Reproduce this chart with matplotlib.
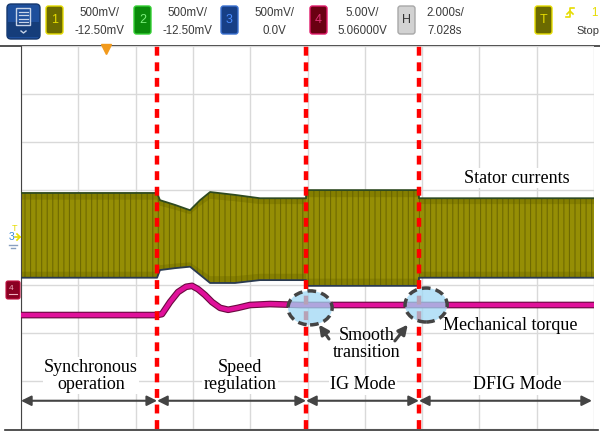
import numpy as np
import matplotlib
matplotlib.use('Agg')
import matplotlib.pyplot as plt
from matplotlib.patches import Ellipse, FancyBboxPatch, Rectangle
import matplotlib.patheffects as pe

# ---- data (time in s, amplitude in divisions) ----
cur_t = [0, 4.75, 4.85, 5.38, 5.90, 6.25, 6.60, 7.47, 8.34, 9.74, 9.95, 9.95, 13.89, 13.89, 20]
cur_hi = [0.93, 0.93, 0.78, 0.68, 0.57, 0.78, 0.95, 0.89, 0.82, 0.82, 0.82, 0.99, 0.99, 0.82, 0.82]
cur_lo = [-0.84, -0.84, -0.68, -0.64, -0.61, -0.78, -0.95, -0.95, -0.89, -0.89, -0.89, -1.01, -1.01, -0.84, -0.84]

torq_t = [0, 4.75, 4.92, 5.20, 5.48, 5.76, 5.97, 6.18, 6.42, 6.67, 6.95, 7.23, 7.57, 7.99, 8.69, 9.74, 20]
torq_v = [-1.62, -1.62, -1.60, -1.35, -1.14, -1.03, -1.01, -1.08, -1.20, -1.35, -1.47, -1.51, -1.47, -1.41, -1.39, -1.41, -1.41]

mode_edges = [0, 4.75, 9.95, 13.89, 19.93]
mode_names = ['Synchronous\noperation', 'Speed\nregulation', 'IG Mode', 'DFIG Mode']
mode_label_x = [2.44, 7.64, 11.94, 17.31]
mode_label_y = [-2.89, -2.89, -3.08, -3.08]
transitions = [(10.09, -1.47), (14.14, -1.41)]

W, H = 600, 436
fig = plt.figure(figsize=(W / 100, H / 100), dpi=100)
fig.patch.set_facecolor('white')

ax = fig.add_axes([21 / W, 1 - 429 / H, 573 / W, 383 / H])
ax.set_xlim(0, 20)
ax.set_ylim(-4, 4)
ax.set_xticks(np.arange(0, 21, 2))
ax.set_yticks(np.arange(-4, 5, 1))
ax.grid(True, color='#d9d9d9', lw=1)
ax.tick_params(length=0, labelbottom=False, labelleft=False)
for s in ['right', 'bottom']:
    ax.spines[s].set_visible(False)
ax.spines['left'].set_color('#444444')
ax.spines['top'].set_visible(False)
ax.set_axisbelow(True)

serif = ['Liberation Serif', 'DejaVu Serif']
plt.rcParams['hatch.linewidth'] = 0.8

# stator current band
ax.fill_between(cur_t, cur_lo, cur_hi, facecolor='#857f00', lw=0, zorder=2)
ax.fill_between(cur_t, np.array(cur_lo) * 0.85, np.array(cur_hi) * 0.85,
                facecolor='#a49c0a', lw=0, alpha=0.55, zorder=2)
ax.fill_between(cur_t, cur_lo, cur_hi, facecolor='none', edgecolor='#5e5a00',
                hatch='|||', lw=0, alpha=0.7, zorder=2)
ax.plot(cur_t, cur_hi, color='#2f4a20', lw=1.3, zorder=3)
ax.plot(cur_t, cur_lo, color='#2a3a50', lw=1.3, zorder=3)

# mechanical torque
ax.plot(torq_t, torq_v, color='#e0109a', lw=3.2,
        path_effects=[pe.Stroke(linewidth=4.8, foreground='#6a0a40'), pe.Normal()], zorder=4)

# mode boundaries
for x in mode_edges[1:4]:
    ax.axvline(x, color='#ff0000', lw=3.2, dashes=(2.0, 1.5), zorder=6)

# smooth transition ellipses
for (ex, ey), w in zip(transitions, [1.54, 1.47]):
    ax.add_patch(Ellipse((ex, ey), w, 0.71, facecolor='#9fd8f5', alpha=0.75,
                         edgecolor='none', zorder=7))
    ax.add_patch(Ellipse((ex, ey), w, 0.71, facecolor='none', edgecolor='#444444',
                         lw=2.5, ls=(0, (2.5, 1.5)), zorder=8))

ax.annotate('', xy=(10.4, -1.82), xytext=(10.75, -2.12),
            arrowprops=dict(arrowstyle='-|>', color='#444444', lw=2.2, mutation_scale=14,
                            shrinkA=0, shrinkB=0), zorder=9)
ax.annotate('', xy=(13.5, -1.82), xytext=(13.05, -2.16),
            arrowprops=dict(arrowstyle='-|>', color='#444444', lw=2.2, mutation_scale=14,
                            shrinkA=0, shrinkB=0), zorder=9)

txt_box = dict(facecolor='white', edgecolor='none', pad=1)
ax.text(12.08, -2.22, 'Smooth\ntransition', ha='center', va='center', fontsize=13,
        family=serif, linespacing=1.0, zorder=10)
ax.text(17.07, -1.83, 'Mechanical torque', ha='center', va='center', fontsize=13,
        family=serif, zorder=10)
ax.text(17.31, 1.24, 'Stator currents', ha='center', va='center', fontsize=13,
        family=serif, bbox=txt_box, zorder=10)

for i, name in enumerate(mode_names):
    ax.text(mode_label_x[i], mode_label_y[i], name, ha='center', va='center', fontsize=13,
            family=serif, linespacing=1.0, bbox=txt_box, zorder=5)
    ax.annotate('', xy=(mode_edges[i], -3.41), xytext=(mode_edges[i + 1], -3.41),
                arrowprops=dict(arrowstyle='<|-|>', color='#444444', lw=1.5,
                                mutation_scale=15, shrinkA=0, shrinkB=0), zorder=5)

# trigger position marker
ax.plot([2.97], [3.93], marker='v', color='#f29a1c', ms=7, clip_on=False, zorder=9)

# ---- scope chrome (screen pixels) ----
ov = fig.add_axes([0, 0, 1, 1], zorder=-1)
ov.set_xlim(0, W)
ov.set_ylim(H, 0)
ov.axis('off')
ov.plot([0, W], [46, 46], color='#333333', lw=1.2)
ov.plot([5, 598], [429.5, 429.5], color='#333333', lw=1.2)

top = fig.add_axes([0, 0, 1, 1], zorder=5)
top.set_xlim(0, W)
top.set_ylim(H, 0)
top.axis('off')

top.add_patch(FancyBboxPatch((7, 4), 33, 35, boxstyle='round,pad=0,rounding_size=4',
                             facecolor='#1e4f9c', edgecolor='#16386e', lw=1))
top.add_patch(Rectangle((7, 22), 33, 15, facecolor='#153d7a', edgecolor='none'))
top.add_patch(Rectangle((16, 8), 14, 17, facecolor='none', edgecolor='#c8d4e8', lw=1))
for yy in [12, 15.5, 19, 22]:
    top.plot([18.5, 27.5], [yy, yy], color='#c8d4e8', lw=0.9)
top.plot([21, 23.5, 26], [31, 33, 31], color='#c8d4e8', lw=1)

sans = ['Liberation Sans', 'DejaVu Sans']
chans = [
    (46, '1', '#6b6a00', '#e6dc00', '#e6dc00', '500mV/', '-12.50mV', 99),
    (134, '2', '#0a8a0a', '#35d035', '#7cf07c', '500mV/', '-12.50mV', 187),
    (221, '3', '#173f86', '#3a70d0', '#4a8cff', '500mV/', '0.0V', 274),
    (310, '4', '#6a0012', '#e01a6a', '#e03075', '5.00V/', '5.06000V', 362),
    (398, 'H', '#d2d2d2', '#a8a8a8', '#333333', '2.000s/', '7.028s', 445),
]
for x0, lab, fc, ec, tc, l1, l2, tx in chans:
    top.add_patch(FancyBboxPatch((x0, 6), 17, 28, boxstyle='round,pad=0,rounding_size=2.5',
                                 facecolor=fc, edgecolor=ec, lw=1))
    top.text(x0 + 8.5, 20, lab, ha='center', va='center', color=tc, fontsize=9, family=sans)
    top.text(tx, 12.5, l1, ha='center', va='center', color='#3a3a3a', fontsize=8.3, family=sans)
    top.text(tx, 31, l2, ha='center', va='center', color='#3a3a3a', fontsize=8.3, family=sans)

top.add_patch(FancyBboxPatch((535, 6), 17, 28, boxstyle='round,pad=0,rounding_size=2.5',
                             facecolor='#6b6a00', edgecolor='#e6dc00', lw=1))
top.text(543.5, 20, 'T', ha='center', va='center', color='#e6dc00', fontsize=9, family=sans)
top.plot([566, 570, 570, 574], [17, 17, 8, 8], color='#e6dc00', lw=1.2)
top.plot([567, 570, 573], [14, 11, 14], color='#e6dc00', lw=1.2)
top.text(591, 12.5, '1', ha='left', va='center', color='#e6dc00', fontsize=8.3, family=sans)
top.text(576, 31, 'Stop', ha='left', va='center', color='#3a3a3a', fontsize=8, family=sans)

# left channel markers
top.text(12, 237, '3', ha='center', va='center', color='#3a8ad8', fontsize=7.5, family=sans)
top.text(15, 228, 'T', ha='center', va='center', color='#e6dc00', fontsize=6.5, family=sans)
top.plot([15, 20], [237, 237], color='#e6dc00', lw=1.2)
top.plot([17, 20, 17], [234, 237, 240], color='#e6dc00', lw=1.2)
top.plot([9, 17], [245, 245], color='#8aa0c0', lw=1)
top.plot([11, 15], [248, 248], color='#8aa0c0', lw=1)
top.add_patch(FancyBboxPatch((6, 281), 14, 18, boxstyle='round,pad=0,rounding_size=2',
                             facecolor='#8a0022', edgecolor='#c01040', lw=0.8))
top.text(11, 288, '4', ha='center', va='center', color='#f0b0c0', fontsize=6, family=sans)
top.plot([9, 17], [294, 294], color='#f0b0c0', lw=0.8)

fig.savefig('out.png', dpi=100, facecolor='white')
